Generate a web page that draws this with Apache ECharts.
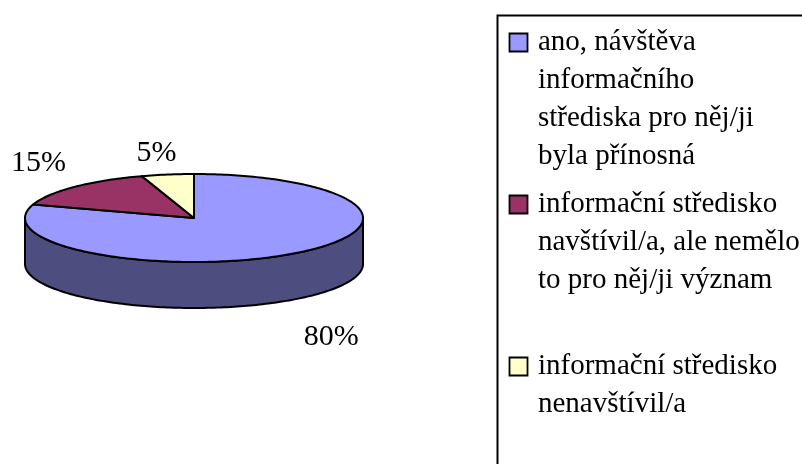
<!DOCTYPE html>
<html>
<head>
<meta charset="utf-8">
<script src="https://cdn.jsdelivr.net/npm/echarts@6/dist/echarts.min.js"></script>
<style>
    html, body { margin: 0; padding: 0; background: #fff; }
    #chart { width: 802px; height: 464px; }
</style>
</head>
<body>
<div id="chart"></div>
<script>
// data
const categories = [
    "ano, návštěva informačního střediska pro něj/ji byla přínosná",
    "informační středisko navštívil/a, ale nemělo to pro něj/ji význam",
    "informační středisko nenavštívil/a",
];
const values = [80, 15, 5];
const percentLabels = ["80%", "15%", "5%"];
const legendLines = [
    ["ano, návštěva", "informačního", "střediska pro něj/ji", "byla přínosná"],
    ["informační středisko", "navštívil/a, ale nemělo", "to pro něj/ji význam", ""],
    ["informační středisko", "nenavštívil/a"],
];

// look
const topColors = ["#9999ff", "#993366", "#ffffcc"];
const sideColors = ["#4d4d80", "#4d1a33", "#80805f"];
const FONT = '"Liberation Serif", "Times New Roman", serif';

// pie geometry (3d ellipse)
const pie = { cx: 194, cy: 218, rx: 169, ry: 44, depth: 46 };
// label offsets from the slice edge point, like excel put them
const labelNudge = [[38, 38], [-36, -24], [-11, -21]];

const total = values.reduce((a, b) => a + b, 0);
const starts = [];
values.reduce((acc, v) => {
    starts.push(acc);
    return acc + v;
}, 0);

const angleOf = (v) => -Math.PI / 2 + (2 * Math.PI * v) / total;
const pt = (t, dy) => [
    pie.cx + pie.rx * Math.cos(t),
    pie.cy + pie.ry * Math.sin(t) + (dy || 0),
];
const arc = (a, b, dy) => {
    let pts = [];
    const n = Math.max(2, Math.ceil(Math.abs(b - a) / 0.02));
    for (let i = 0; i <= n; i++) {
        pts.push(pt(a + ((b - a) * i) / n, dy));
    }
    return pts;
};

const renderItem = (params, api) => {
    const i = params.dataIndex;
    const v = api.value(0);
    const t0 = angleOf(starts[i]);
    const t1 = angleOf(starts[i] + v);
    let children = [];
    // front wall, only where the rim faces us
    [-2, 0, 2].forEach((k) => {
        const a = Math.max(t0, k * Math.PI);
        const b = Math.min(t1, (k + 1) * Math.PI);
        if (b > a) {
            const top = arc(a, b, 0);
            const bottom = arc(b, a, pie.depth);
            children.push({
                type: "polygon",
                shape: { points: top.concat(bottom) },
                style: {
                    fill: sideColors[i],
                    stroke: "#000",
                    lineWidth: 2,
                    lineJoin: "round",
                },
            });
        }
    });
    // top face
    children.push({
        type: "polygon",
        shape: { points: [[pie.cx, pie.cy]].concat(arc(t0, t1, 0)) },
        style: {
            fill: topColors[i],
            stroke: "#000",
            lineWidth: 2,
            lineJoin: "round",
        },
    });
    // percent label
    const mid = (t0 + t1) / 2;
    const front = Math.sin(mid) > 0;
    const anchor = pt(mid, front ? pie.depth : 0);
    children.push({
        type: "text",
        style: {
            text: percentLabels[i],
            x: anchor[0] + labelNudge[i][0],
            y: anchor[1] + labelNudge[i][1],
            fill: "#000",
            font: `30px ${FONT}`,
            align: "center",
            verticalAlign: "middle",
        },
    });
    return { type: "group", children: children };
};

// legend drawn as a framed box at the right, like the original
const legendItems = [];
let lineY = 42.5;
legendLines.forEach((lines, i) => {
    legendItems.push({
        type: "rect",
        shape: { x: 509.5, y: lineY - 9, width: 18, height: 18 },
        style: { fill: topColors[i], stroke: "#000", lineWidth: 1.8 },
    });
    legendItems.push({
        type: "text",
        style: {
            text: lines.join("\n"),
            x: 538,
            y: lineY - 19,
            fill: "#000",
            font: `29px ${FONT}`,
            lineHeight: 38,
            verticalAlign: "top",
        },
    });
    lineY += lines.length * 38 + 10;
});

const chart = echarts.init(document.getElementById("chart"), null, { renderer: "canvas" });
chart.setOption({
    animation: false,
    backgroundColor: "#fff",
    graphic: [
        {
            type: "rect",
            shape: { x: 497.5, y: 15.5, width: 400, height: 500 },
            style: { fill: "#fff", stroke: "#000", lineWidth: 2 },
        },
    ].concat(legendItems),
    series: [
        {
            type: "custom",
            coordinateSystem: "none",
            renderItem: renderItem,
            data: values.map((v, i) => ({ name: categories[i], value: [v] })),
        },
    ],
});
</script>
</body>
</html>
